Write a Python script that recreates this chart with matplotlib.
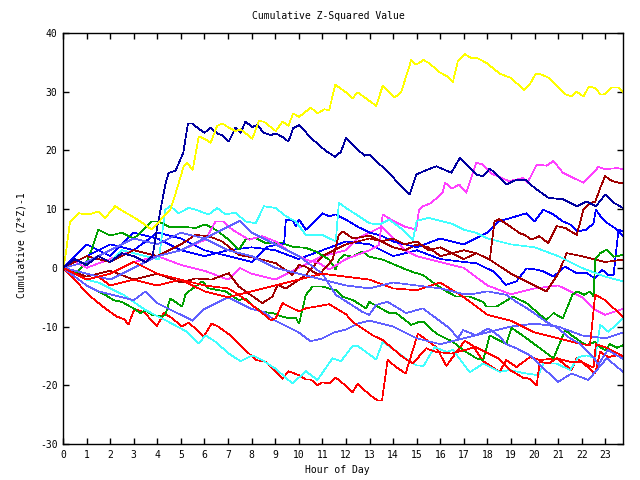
import matplotlib
matplotlib.use("Agg")
import matplotlib.pyplot as plt

# hour of day / cumulative (Z*Z)-1
yellow_h = [0, 0.1, 0.3, 0.65, 1.08, 1.5, 1.79, 2.21, 2.57, 2.92, 3.28, 3.77, 4.1, 4.55, 4.8, 5.12, 5.26, 5.5, 5.76, 6.04, 6.26, 6.54, 6.75, 7.03, 7.32, 7.53, 8.03, 8.31, 8.52, 9.02, 9.31, 9.56, 9.76, 10.01, 10.51, 10.79, 11.08, 11.29, 11.55, 12.0, 12.28, 12.5, 13.28, 13.56, 14.06, 14.34, 14.77, 14.98, 15.29, 15.55, 15.97, 16.26, 16.54, 16.75, 17.04, 17.32, 17.53, 17.96, 18.52, 19.02, 19.54, 19.8, 20.06, 20.3, 20.58, 21.29, 21.57, 21.79, 22.07, 22.31, 22.57, 22.81, 22.99, 23.28, 23.56, 23.75]
yellow_v = [0, 1.9, 7.9, 9.3, 9.1, 9.6, 8.5, 10.5, 9.6, 8.8, 7.9, 6.5, 8, 9.9, 13, 17.3, 17.9, 16.7, 22.4, 21.9, 21.3, 24.2, 24.6, 23.9, 23.3, 23.6, 22, 25, 24.9, 23.3, 24.9, 24.2, 26.3, 25.7, 27.3, 26.3, 27, 26.9, 31.2, 29.9, 28.9, 29.9, 27.6, 31, 29, 29.9, 35.4, 34.6, 35.4, 34.8, 33.3, 32.7, 31.7, 35.3, 36.4, 35.7, 35.8, 34.9, 33.1, 32.3, 30.3, 31.3, 33.1, 32.9, 32.4, 29.6, 29.2, 30, 29.2, 30.9, 30.6, 29.5, 29.6, 30.7, 30.7, 30]

navy_h = [0, 0.5, 1, 1.5, 2, 2.5, 3, 3.5, 3.8, 4.0, 4.34, 4.48, 4.77, 5.1, 5.3, 5.47, 5.69, 6.0, 6.26, 6.54, 6.75, 7.03, 7.32, 7.53, 7.74, 8.03, 8.24, 8.52, 8.81, 9.02, 9.31, 9.56, 9.76, 10.01, 10.58, 11.15, 11.55, 11.79, 12.0, 12.78, 12.99, 13.63, 14.7, 14.98, 15.5, 15.83, 16.47, 16.83, 17.25, 17.53, 17.8, 18.1, 18.4, 18.8, 19.23, 19.66, 20.0, 20.6, 21.2, 21.8, 22.2, 22.6, 23.0, 23.4, 23.75]
navy_v = [0, 1.5, 0.5, 2, 1, 2.5, 2, 1, 2, 7, 14.2, 16.2, 16.5, 19.6, 24.6, 24.6, 23.9, 23, 23.9, 22.9, 22.6, 21.5, 23.9, 23, 24.9, 24, 24.3, 23, 22.6, 22.9, 22.3, 21.5, 23.8, 24.3, 21.9, 19.9, 18.9, 19.8, 22.1, 19.1, 19.3, 16.9, 12.5, 15.9, 16.8, 17.3, 16.2, 18.7, 17, 15.9, 15.6, 16.9, 15.9, 14.2, 15, 14.9, 13.6, 11.9, 11.7, 10.5, 11.3, 10.5, 12.5, 11, 10.2]

magenta_h = [0, 0.5, 1, 2, 3, 4, 5, 6.04, 6.47, 6.8, 7.18, 7.89, 8.45, 9.02, 9.59, 10.3, 10.86, 11.29, 12, 13, 13.4, 13.56, 14, 14.5, 14.98, 15.1, 15.26, 15.6, 16.1, 16.2, 16.5, 16.8, 17.1, 17.53, 17.8, 18.2, 18.9, 19.23, 19.5, 19.7, 20.09, 20.5, 20.8, 21.2, 22.07, 22.57, 22.7, 23.0, 23.5, 23.75]
magenta_v = [0, 1, 0, 1.5, 3, 2, 3, 4.8, 7.9, 7.9, 6.5, 4.8, 5.4, 4.5, 2.8, 1.4, 0.8, -0.3, 1.5, 3, 3.9, 9.1, 8, 7, 6.5, 9.9, 10.5, 11, 12.8, 14.5, 13.5, 14.2, 12.8, 17.9, 17.6, 16, 14.8, 15, 15.3, 14.5, 17.6, 17.4, 18.2, 16.2, 14.5, 16.5, 17.2, 16.8, 17, 16.8]

darkred_h = [0, 1, 2, 3, 4, 5, 5.62, 6.18, 6.75, 7.46, 7.89, 8.45, 9.02, 9.73, 10.01, 10.3, 10.58, 10.86, 11.43, 11.7, 11.86, 12.3, 13, 13.5, 14, 14.5, 15, 15.5, 16, 16.5, 17, 17.53, 18.1, 18.3, 18.5, 18.95, 19.37, 19.59, 19.87, 20.2, 20.58, 20.94, 21.3, 21.79, 22.07, 22.35, 22.57, 22.78, 22.99, 23.28, 23.56, 23.75]
darkred_v = [0, 2, 1, 3, 2, 4, 5.6, 5.4, 4.5, 2.2, 1.9, 1.4, 0.8, -1.2, 0.5, 0.2, -0.6, -1.2, 1.4, 5.6, 6.2, 5, 5.5, 4.5, 5, 4, 4.5, 3, 3.5, 2.5, 3, 2.5, 1.4, 7.9, 8.3, 7.1, 5.9, 5.6, 4.8, 5.4, 4.2, 7.1, 6.8, 5.6, 9.9, 11.1, 11.2, 13.6, 15.6, 14.8, 14.5, 14.4]

darkred2_h = [0, 1, 2, 3, 4, 5, 5.62, 6.3, 7.03, 7.46, 8.45, 8.88, 9.1, 9.45, 10.01, 10.3, 11, 11.5, 12, 12.5, 13, 13.5, 14, 14.5, 15, 15.5, 16, 16.5, 17, 17.53, 18.1, 19, 20, 20.5, 21, 21.36, 22, 22.5, 23, 23.75]
darkred2_v = [0, -1.5, -0.5, -2, -1, -2.5, -1.8, -2, -0.9, -3.2, -6, -4.9, -2.9, -3.5, -2, -1.2, 2, 3, 4, 4.5, 5, 4.5, 3.5, 3, 4, 3.5, 2, 2.5, 1.5, 2.5, 1.4, -1, -3, -4, -1, 2.5, 2, 1.5, 1, 1.4]

red1_h = [0, 0.5, 1.08, 1.79, 2.28, 2.57, 2.78, 3.03, 3.42, 3.99, 4.27, 4.6, 5.05, 5.33, 5.97, 6.3, 6.54, 7.03, 7.74, 8.17, 8.6, 9.31, 9.56, 10.01, 10.3, 10.51, 10.79, 11.0, 11.29, 11.57, 12.0, 12.28, 12.5, 12.99, 13.35, 13.53, 13.77, 14.06, 14.53, 15.05, 15.83, 16.26, 17.04, 17.39, 17.82, 18.52, 18.8, 19.23, 19.8, 20.22, 20.94, 21.57, 21.79, 22.57, 22.78, 23.13, 23.49, 23.75]
red1_v = [0, -2, -4.6, -6.9, -8.3, -8.7, -9.6, -7, -7.5, -9.9, -7.7, -8.5, -10, -9.3, -11.7, -9.5, -9.9, -11.3, -14, -15.7, -16, -18.9, -17.6, -18.3, -19, -19, -20, -19.5, -19.7, -18.7, -20.1, -21.2, -19.7, -21.6, -22.6, -22.6, -15.6, -16.7, -18, -11.2, -13.5, -16.7, -12.4, -13.3, -15.9, -17.7, -15.7, -16.9, -15.2, -15.7, -15.4, -17.4, -15.3, -18, -14.3, -15.2, -14.9, -15.2]

red2_h = [0, 0.5, 1, 1.5, 2, 3, 4, 5, 6, 7, 7.46, 8.45, 8.81, 9.02, 9.31, 9.59, 10.01, 10.3, 11.29, 12.0, 12.28, 13.14, 13.56, 14.41, 14.84, 15.4, 15.8, 16.47, 17.5, 18.0, 18.5, 19.0, 19.5, 19.8, 20.09, 20.22, 20.6, 20.94, 21.5, 22.0, 22.5, 22.6, 23.0, 23.75]
red2_v = [0, -1, -2, -1.5, -3, -2, -3, -2, -3, -3.5, -4.6, -7.7, -8.9, -8.6, -6, -6.6, -7.4, -6.9, -6.2, -7.9, -9.2, -11.5, -12.3, -15.2, -16.3, -13.7, -14.3, -14.6, -13.5, -14.5, -15.5, -17.5, -18.7, -18.9, -20, -16, -16.3, -15.4, -16, -16, -17, -13, -13.5, -15]

red3_h = [0, 1, 2, 3, 4, 5, 6, 7, 8, 9, 10, 11, 12, 13, 14, 15, 16, 17, 18, 19, 20, 21, 22, 22.35, 22.57, 23.0, 23.75]
red3_v = [0, -2, -1, 1, -1, -2, -4, -5, -4, -3, -2, -1, -1.5, -2, -3.5, -3.8, -2.5, -5, -8, -9, -11, -12, -13, -13.2, -4.6, -5.5, -8.4]

cyan1_h = [0, 0.5, 1, 1.5, 2, 2.57, 3.5, 4.34, 5.26, 5.76, 6.04, 6.47, 7.03, 7.53, 8.03, 8.45, 9.02, 9.73, 10.3, 10.79, 11.43, 11.79, 12.28, 12.5, 13.28, 13.56, 14.06, 14.62, 14.98, 15.29, 15.76, 16.26, 16.54, 17.25, 17.82, 18.52, 18.95, 19.52, 20.16, 20.37, 20.94, 21.5, 21.86, 22.21, 22.57, 22.78, 23.13, 23.75]
cyan1_v = [0, -1, -2, -2.5, -3.5, -4.6, -7.2, -8.9, -10.9, -12.9, -11.5, -12.6, -14.6, -15.9, -14.9, -15.7, -17.2, -19.7, -17.6, -19.1, -15.4, -15.9, -13.3, -13.3, -15.6, -12.6, -14, -15.7, -16.6, -16.7, -13.5, -14.3, -14, -17.8, -16.3, -17.7, -17.4, -17.9, -18.3, -16.3, -16.3, -17.4, -15.2, -14.9, -15.4, -9.7, -10.9, -8.6]

cyan2_h = [0, 0.5, 1, 1.5, 2, 2.5, 3, 3.5, 4.06, 4.34, 4.55, 4.9, 5.33, 5.62, 6.18, 6.54, 6.89, 7.32, 7.74, 8.17, 8.52, 9.02, 9.45, 9.87, 10.3, 11.0, 11.57, 11.7, 12.0, 12.43, 12.99, 13.42, 13.84, 14.41, 14.84, 15, 15.5, 16, 16.5, 17, 17.5, 18, 19, 20, 21, 22, 23, 23.75]
cyan2_v = [0, 1.5, 0.5, 2, 1, 3, 2.5, 2, 1.4, 9.9, 10.5, 9.3, 10.2, 9.9, 9.1, 10.2, 9.1, 9.4, 7.9, 7.6, 10.5, 10.2, 8.8, 7.9, 5.6, 5.6, 4.5, 11.1, 10.2, 9.1, 7.6, 7.4, 8.2, 6.5, 4.8, 8, 8.5, 8, 7.5, 6.5, 6, 5, 4, 3.5, 2, 0, -1.5, -2.3]

greenA_h = [0, 0.5, 1, 1.5, 1.79, 2.14, 2.5, 2.99, 3.28, 3.49, 3.77, 4.2, 4.34, 4.55, 5.05, 5.19, 5.33, 5.62, 5.9, 6.18, 6.89, 7.46, 7.74, 8.1, 8.45, 8.88, 9.31, 9.59, 9.87, 10.01, 10.3, 10.58, 11.0, 11.57, 11.86, 12.3, 12.85, 12.99, 13.84, 14.13, 14.77, 15.1, 15.3, 15.83, 16.54, 16.97, 17.53, 17.82, 18.1, 18.8, 19.02, 19.66, 20.8, 21.3, 21.57, 21.86, 22.2, 22.57, 22.78, 22.99, 23.2, 23.49, 23.75]
greenA_v = [0, -1.5, -3, -4, -4.6, -5.5, -5.8, -6.9, -7.7, -7.2, -8, -8.3, -8, -5.2, -6.6, -4.6, -4, -3.2, -2.3, -3.5, -4, -5.5, -5.2, -6.6, -7.5, -7.7, -8.3, -8.6, -8.5, -9.5, -4.6, -3.2, -3.2, -3.8, -4.9, -5.5, -6.9, -5.8, -7.7, -7.7, -9.7, -9.2, -9.2, -11.2, -12.6, -14, -15.4, -15.7, -11.5, -13, -10.2, -12, -15.4, -10.6, -11.5, -12.3, -13.2, -12.6, -13.5, -14, -13, -13.6, -13.2]

greenC_h = [0, 0.5, 1, 1.22, 1.5, 2, 2.5, 3, 3.42, 3.77, 4.06, 4.5, 5, 5.62, 6.04, 6.47, 7.03, 7.46, 7.74, 8.17, 8.6, 9.31, 9.73, 10.3, 10.72, 11.29, 11.57, 11.7, 11.9, 12.28, 12.7, 12.99, 13.56, 14.27, 14.55, 14.98, 15.26, 15.83, 16.26, 16.68, 17.25, 17.82, 17.96, 18.38, 19.09, 19.66, 20.5, 20.8, 21.2, 21.6, 21.8, 22.1, 22.35, 22.5, 22.57, 22.78, 23.06, 23.35, 23.75]
greenC_v = [0, -1, 1, 3.1, 6.5, 5.5, 6, 5, 6.5, 7.9, 7.9, 7, 7, 6.8, 7.4, 6.5, 4.8, 3.1, 4.8, 5.1, 4.2, 4.2, 3.6, 3.4, 2.8, 1.4, -0.3, 1.4, 2.2, 1.9, 2.8, 1.9, 1.4, 0.2, -0.3, -0.9, -1.2, -2.9, -4, -4.9, -4.9, -5.8, -6.6, -6.6, -4.9, -6, -8.9, -7.7, -8.6, -4.6, -4, -4.6, -4, -4.9, 1.4, 2.5, 3.1, 1.9, 2.2]

lblueA_h = [0, 1, 2, 3, 4, 5, 6, 7, 7.5, 8, 9, 10, 11, 11.57, 12.7, 12.99, 13.28, 13.77, 14.55, 15.26, 15.83, 16.4, 16.75, 16.97, 17.53, 18.03, 18.52, 18.8, 19.23, 19.8, 20.37, 21.0, 21.57, 22.28, 23.06, 23.75]
lblueA_v = [0, -1, -2, 0, 2, 3, 5, 7, 8, 6, 4, 2, -1, -4.6, -7.5, -8, -6.3, -5.8, -7.7, -6.9, -8.6, -10.3, -12, -10.6, -11.5, -10.3, -11.7, -13, -13.7, -14.9, -17.1, -19.4, -18, -19.1, -15.4, -17.7]

lblueB_h = [0, 1, 2, 3, 4, 5, 6, 7, 8, 9, 10, 11, 12, 13, 14, 15, 16, 17, 17.3, 18, 18.8, 19.23, 19.8, 20.5, 21.0, 21.5, 21.93, 22.5, 22.7, 23.1, 23.75]
lblueB_v = [0, 1, 3, 5, 4, 6, 5, 3, 2, 0, -1, -2, -3, -3.5, -2.5, -3, -3.5, -4.5, -4.5, -4, -4.6, -5.8, -7.2, -9.2, -10.3, -12, -12.9, -15.2, -16.5, -14, -15.5]

lblueC_h = [0, 0.5, 1, 1.5, 2, 2.5, 3, 3.5, 4, 4.5, 5, 5.5, 6, 6.5, 7, 7.5, 8, 8.5, 9, 9.5, 10, 10.5, 11, 11.5, 12, 12.5, 13, 14, 15, 16, 17, 18, 19, 20, 21, 22, 23, 23.75]
lblueC_v = [0, -1.5, -3, -4, -4.5, -5, -5.5, -4, -6, -7, -8, -9, -7, -6, -5, -6, -7, -7.5, -9, -10, -11, -12.5, -12, -11, -10.5, -9.5, -9, -10, -12, -13, -12, -11, -10, -9.5, -10, -11.5, -12, -11]

blue2_h = [0, 1, 1.5, 2, 3, 4, 5, 6, 7, 8, 9, 10, 11, 12, 13, 14, 15, 16, 17, 17.53, 18.24, 18.8, 19.23, 19.66, 20.09, 20.37, 20.8, 21.29, 21.79, 22.21, 22.57, 22.85, 23.13, 23.35, 23.49, 23.56, 23.75]
blue2_v = [0, 4, 3, 2, 6, 5, 3, 2, 3, 3.5, 3, 1.5, 3, 4.5, 4, 2, 3, 1.5, 1, 0.8, -0.6, -2.9, -2.3, -0.1, -0.3, -0.6, -1.5, 0.2, -0.9, -0.9, -1.8, -0.3, -1.2, -1.2, 3.9, 6.5, 6.2]

blue3_h = [0, 1, 2, 3, 4, 5, 6, 7, 8, 8.67, 9.38, 9.45, 9.73, 9.87, 10.01, 10.3, 11, 11.29, 11.57, 12, 12.5, 13, 13.5, 14, 14.5, 15, 16, 16.5, 17, 17.5, 18, 18.5, 19, 19.23, 19.66, 20, 20.37, 20.8, 21.2, 21.5, 21.8, 22.2, 22.5, 22.6, 22.85, 23.1, 23.5, 23.75]
blue3_v = [0, 2, 4, 3, 6, 5, 3, 2, 1, 3.6, 4.2, 8.2, 8.2, 7.1, 8.2, 6.5, 9.3, 8.8, 9.1, 8.2, 7, 6, 5.5, 4.5, 4, 3.5, 5, 4.5, 4, 5, 6, 8, 8.5, 8.8, 9.3, 7.9, 9.9, 9.1, 7.9, 7.4, 6.2, 6.5, 7.6, 9.9, 8.5, 7.6, 6.5, 5.5]

magenta2_h = [0, 0.5, 1, 2, 3, 4, 5, 6, 7, 7.5, 8, 9, 10, 11, 12, 12.5, 13, 13.5, 14, 14.5, 15, 16, 17, 18, 19, 20, 21, 22, 22.5, 23, 23.75]
magenta2_v = [0, -1, -2, -1, 1, 2, 0.5, -0.5, -2, 0, -1, -2, 0, 2, 3, 5, 6, 7, 5, 3, 2, 1, 0, -3, -4.5, -3.5, -3, -5, -7, -8, -7]

series = [
    (red1_h, red1_v, '#ff0000'),
    (greenA_h, greenA_v, '#00a000'),
    (blue2_h, blue2_v, '#0000ff'),
    (magenta2_h, magenta2_v, '#ff40ff'),
    (cyan1_h, cyan1_v, '#40ffff'),
    (darkred2_h, darkred2_v, '#a00000'),
    (lblueC_h, lblueC_v, '#6060ff'),
    (red2_h, red2_v, '#ff0000'),
    (greenC_h, greenC_v, '#00a000'),
    (blue3_h, blue3_v, '#0000ff'),
    (magenta_h, magenta_v, '#ff40ff'),
    (cyan2_h, cyan2_v, '#40ffff'),
    (darkred_h, darkred_v, '#a00000'),
    (lblueA_h, lblueA_v, '#6060ff'),
    (red3_h, red3_v, '#ff0000'),
    (lblueB_h, lblueB_v, '#6060ff'),
    (navy_h, navy_v, '#0000a0'),
    (yellow_h, yellow_v, '#ffff00'),
]

font = {'family': 'DejaVu Sans Mono', 'size': 7}

fig = plt.figure(figsize=(6.4, 4.8), dpi=100)
ax = fig.add_axes([63 / 640, 1 - 444 / 480, 560 / 640, 411 / 480])

for h, v, c in series:
    ax.plot(h, v, color=c, linewidth=0.5, antialiased=False)

ax.set_xlim(0, 23.75)
ax.set_ylim(-30, 40)
ax.set_xticks(range(0, 24))
ax.set_xticklabels([str(i) for i in range(0, 24)], fontdict=font)
ax.set_yticks(range(-30, 41, 10))
ax.set_yticklabels([str(i) for i in range(-30, 41, 10)], fontdict=font)
ax.tick_params(direction='in', length=4, width=1, top=True, right=True, pad=4)
for s in ax.spines.values():
    s.set_linewidth(1)

fig.text(328 / 640, 1 - 16 / 480, 'Cumulative Z-Squared Value', ha='center', va='center', fontdict=font)
fig.text(337 / 640, 1 - 470 / 480, 'Hour of Day', ha='center', va='center', fontdict=font)
fig.text(22 / 640, 1 - 245 / 480, 'Cumulative (Z*Z)-1', ha='center', va='center', rotation=90, fontdict=font)

fig.savefig('out.png', dpi=100)
